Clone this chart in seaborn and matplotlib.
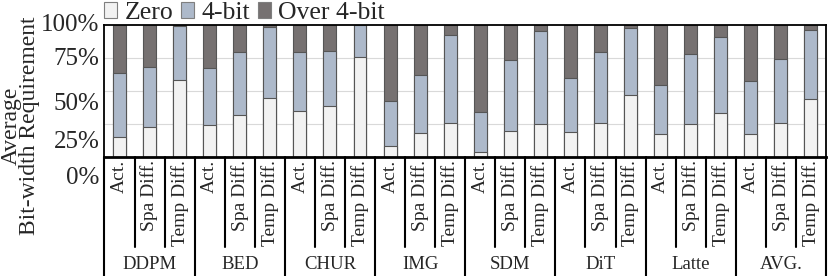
import pandas as pd
import matplotlib.pyplot as plt
import seaborn as sns
from matplotlib.patches import Patch

modelos = ["DDPM", "BED", "CHUR", "IMG", "SDM", "DiT", "Latte", "AVG."]
tipos = ["Act.", "Spa Diff.", "Temp Diff."]

# percentuais, na ordem Act., Spa Diff., Temp Diff. de cada modelo
zero = [15.0, 22.7, 58.0, 24.4, 31.8, 44.8, 34.6, 38.9, 76.1, 8.6, 17.8, 25.4,
        4.0, 19.6, 25.0, 19.3, 25.4, 47.1, 17.6, 25.2, 33.6, 17.6, 25.7, 44.0]
quatro_bits = [48.9, 45.8, 41.5, 43.3, 47.4, 53.4, 45.3, 41.5, 23.9, 33.6, 44.0, 66.7,
               29.8, 53.9, 70.2, 40.5, 53.8, 50.6, 36.6, 52.9, 57.0, 39.9, 48.6, 52.0]
acima = [36.1, 31.5, 0.5, 32.3, 20.8, 1.8, 20.1, 19.6, 0.0, 57.8, 38.2, 7.9,
         66.2, 26.5, 4.8, 40.2, 20.8, 2.3, 45.8, 21.9, 9.4, 42.5, 25.7, 4.0]

rotulos_y = ["0%", "25%", "50%", "75%", "100%"]
legenda = ["Zero", "4-bit", "Over 4-bit"]

cor_zero = "#f2f2f2"
cor_4 = "#adb9ca"
cor_acima = "#767171"
cor_borda = "#555555"

sns.set_style("white")
plt.rcParams["font.family"] = ["Liberation Serif", "DejaVu Serif"]

# tabela no formato longo, uma linha por barra
df = pd.DataFrame({
    "barra": [f"{m}|{t}" for m in modelos for t in tipos],
    "zero": zero,
    "quatro": quatro_bits,
    "acima": acima,
})
df["topo_4"] = df["zero"] + df["quatro"]
df["topo"] = df["topo_4"] + df["acima"]
ordem = list(df["barra"])

fig = plt.figure(figsize=(8.31, 2.76), dpi=100)
ax = fig.add_axes([0.1257, 0.4312, 0.8682, 0.4782])

# empilhamento: desenha do total para baixo
for coluna, cor in [("topo", cor_acima), ("topo_4", cor_4), ("zero", cor_zero)]:
    sns.barplot(data=df, x="barra", y=coluna, order=ordem, color=cor, saturation=1,
                width=0.43, edgecolor=cor_borda, linewidth=0.8, errorbar=None, ax=ax)

ax.set_xlim(-0.5, len(ordem) - 0.5)
ax.set_ylim(0, 100)
ax.set_yticks([25, 50, 75])
ax.set_yticklabels([])
ax.set_xticks([])
ax.tick_params(length=0)
ax.set_xlabel("")
ax.set_ylabel("")
ax.yaxis.grid(True, color="#d9d9d9", linewidth=0.8)
ax.set_axisbelow(True)

for lado in ["left", "right", "top"]:
    ax.spines[lado].set_color("black")
    ax.spines[lado].set_linewidth(1.3)
ax.spines["bottom"].set_color("black")
ax.spines["bottom"].set_linewidth(2)

# rotulos do eixo y (deslocados como no original)
pos_y = [-0.159, 0.114, 0.40, 0.742, 1.0]
for rot, py in zip(rotulos_y, pos_y):
    ax.text(-0.007, py, rot, ha="right", va="center", fontsize=18, transform=ax.transAxes)

# titulo do eixo y em duas linhas
fig.text(0.0245, 0.545, "Average\nBit-width Requirement", rotation=90, ha="center",
         va="center", multialignment="center", fontsize=17, linespacing=0.8)

# tabela de categorias abaixo do eixo
trans = ax.get_xaxis_transform()
for i in range(len(ordem) + 1):
    x = i - 0.5
    y_fim = -0.92 if i % 3 == 0 else -0.682
    ax.plot([x, x], [0, y_fim], color="black", lw=1.5, transform=trans, clip_on=False)

for i, barra in enumerate(ordem):
    ax.text(i, -0.022, barra.split("|")[1], rotation=90, ha="center", va="top",
            fontsize=14, transform=trans)

for g, modelo in enumerate(modelos):
    ax.text(3 * g + 1, -0.818, modelo, ha="center", va="center", fontsize=13.5, transform=trans)

alcas = [Patch(facecolor=c, edgecolor="#7f7f7f", linewidth=0.8) for c in [cor_zero, cor_4, cor_acima]]
fig.legend(alcas, legenda, loc="center left", bbox_to_anchor=(104 / 831, 1 - 13 / 276),
           ncol=3, frameon=False, fontsize=18.5, handlelength=0.5, handleheight=0.55,
           handletextpad=0.3, columnspacing=0.3, borderpad=0, borderaxespad=0)

fig.savefig("out.png", dpi=100)
